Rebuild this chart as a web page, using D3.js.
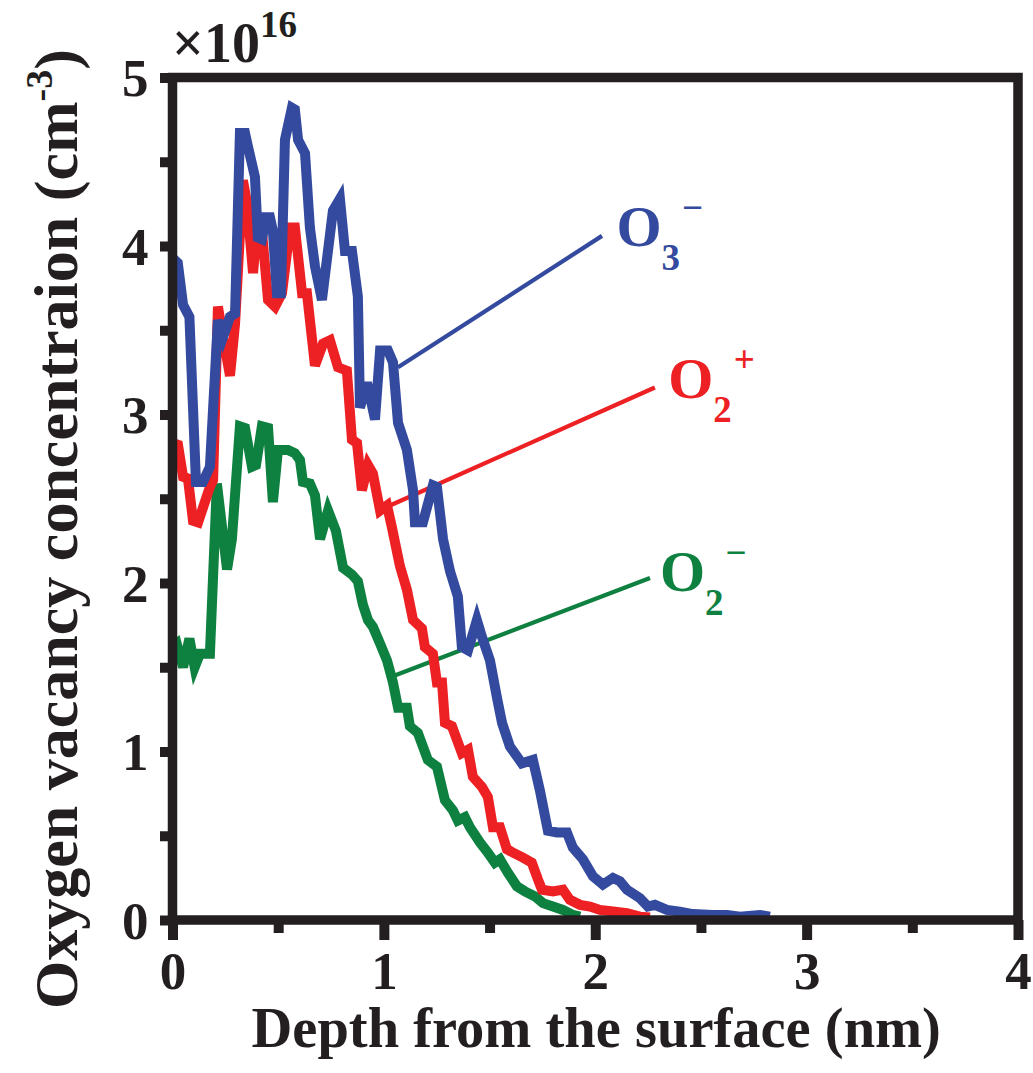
<!DOCTYPE html>
<html><head><meta charset="utf-8">
<script src="https://cdn.jsdelivr.net/npm/d3@7"></script>
<style>body{margin:0;background:#fff}svg{display:block}text{font-family:"Liberation Serif","Times New Roman",serif;font-weight:bold}</style>
</head><body>
<svg id="c" width="1033" height="1073"></svg>
<script>
// Series data: [depth (nm), concentration (x1e16 cm^-3)]
const seriesO3minus = [[0,3.93],[0.025,3.9],[0.05,3.65],[0.08,3.58],[0.111,2.6],[0.144,2.6],[0.177,2.69],[0.215,3.56],[0.239,3.46],[0.272,3.58],[0.296,3.6],[0.319,4.67],[0.343,4.67],[0.357,4.59],[0.39,4.41],[0.404,4.05],[0.423,4.04],[0.442,4.17],[0.461,4.17],[0.475,4.09],[0.494,3.72],[0.513,3.72],[0.532,4.63],[0.565,4.82],[0.579,4.81],[0.594,4.63],[0.627,4.55],[0.65,4.11],[0.674,3.88],[0.707,3.68],[0.759,4.21],[0.792,4.28],[0.816,3.97],[0.849,3.97],[0.877,3.7],[0.887,3.04],[0.92,3.19],[0.958,2.97],[0.982,3.38],[1.019,3.38],[1.043,3.31],[1.067,2.95],[1.109,2.79],[1.138,2.55],[1.147,2.36],[1.185,2.36],[1.232,2.58],[1.251,2.57],[1.28,2.26],[1.313,2.07],[1.35,1.92],[1.369,1.62],[1.398,1.6],[1.44,1.78],[1.464,1.68],[1.502,1.54],[1.535,1.32],[1.559,1.17],[1.596,1.03],[1.653,0.93],[1.705,0.95],[1.738,0.77],[1.776,0.53],[1.819,0.52],[1.866,0.52],[1.894,0.43],[1.942,0.36],[1.989,0.26],[2.036,0.21],[2.084,0.25],[2.117,0.23],[2.15,0.18],[2.211,0.13],[2.249,0.08],[2.282,0.09],[2.339,0.06],[2.4,0.05],[2.462,0.035],[2.557,0.03],[2.623,0.03],[2.685,0.02],[2.779,0.03],[2.826,0.02]];
const seriesO2plus = [[0,2.83],[0.026,2.82],[0.05,2.63],[0.073,2.62],[0.097,2.37],[0.121,2.36],[0.177,2.57],[0.192,2.61],[0.215,3.64],[0.239,3.46],[0.272,3.23],[0.296,3.54],[0.333,4.39],[0.352,4.26],[0.381,3.84],[0.404,4.17],[0.423,4.09],[0.452,3.68],[0.485,3.64],[0.518,3.72],[0.556,4.11],[0.579,4.11],[0.613,3.72],[0.636,3.72],[0.674,3.29],[0.712,3.42],[0.745,3.44],[0.783,3.28],[0.825,3.26],[0.849,2.85],[0.873,2.83],[0.896,2.55],[0.925,2.7],[0.948,2.65],[0.982,2.43],[1.015,2.46],[1.038,2.33],[1.076,2.1],[1.109,1.96],[1.138,1.78],[1.18,1.73],[1.194,1.62],[1.232,1.58],[1.251,1.41],[1.275,1.41],[1.289,1.17],[1.322,1.15],[1.369,0.99],[1.398,1.01],[1.421,0.85],[1.464,0.79],[1.492,0.73],[1.516,0.55],[1.549,0.55],[1.582,0.42],[1.611,0.4],[1.658,0.37],[1.7,0.34],[1.729,0.24],[1.748,0.18],[1.8,0.17],[1.847,0.18],[1.88,0.12],[1.928,0.09],[1.975,0.08],[2.022,0.06],[2.084,0.05],[2.15,0.04],[2.211,0.02],[2.259,0.015]];
const seriesO2minus = [[0,1.62],[0.02,1.64],[0.05,1.5],[0.08,1.67],[0.105,1.5],[0.13,1.58],[0.177,1.58],[0.21,2.59],[0.258,2.08],[0.281,2.26],[0.319,2.93],[0.343,2.92],[0.376,2.69],[0.395,2.7],[0.423,2.93],[0.452,2.92],[0.475,2.48],[0.499,2.79],[0.546,2.79],[0.579,2.77],[0.603,2.73],[0.617,2.6],[0.65,2.59],[0.674,2.52],[0.698,2.26],[0.736,2.43],[0.773,2.31],[0.807,2.09],[0.849,2.05],[0.877,2.01],[0.901,1.87],[0.925,1.78],[0.948,1.74],[0.982,1.64],[1.015,1.54],[1.043,1.41],[1.067,1.26],[1.109,1.26],[1.123,1.15],[1.161,1.11],[1.208,0.95],[1.251,0.91],[1.289,0.71],[1.327,0.65],[1.35,0.59],[1.383,0.61],[1.407,0.55],[1.455,0.46],[1.492,0.4],[1.525,0.34],[1.549,0.36],[1.587,0.28],[1.629,0.2],[1.667,0.17],[1.715,0.14],[1.753,0.1],[1.8,0.08],[1.847,0.06],[1.894,0.03],[1.928,0.02]];

const seriesNames = ["O3-","O2+","O2-"];
const labelBase = ["O","O","O"];
const labelSub = ["3","2","2"];
const labelSup = ["\u2212","+","\u2212"];
const seriesColors = ["#344a9e","#ed2024","#0e8040"];
// callout lines: [from depth, from conc, to depth, to conc]
const callouts = [[1.067,3.28,2.032,4.06],[1.029,2.46,2.282,3.16],[1.048,1.45,2.259,2.03]];
const labelPos = [[2.10,4.0],[2.345,3.10],[2.306,1.95]];

const xMajorTicks = [0,1,2,3,4];
const xMinorTicks = [0.5,1.5,2.5,3.5];
const yTicks = [0,0.5,1,1.5,2,2.5,3,3.5,4,4.5,5];
const yLabelTicks = [0,1,2,3,4,5];
const xTitle = "Depth from the surface (nm)";
const yTitle = "Oxygen vacancy concentraion (cm";
const yTitleSup = "-3";
const expBase = "\u00d710";
const expSup = "16";

const svg = d3.select("#c");
const L=172.5, R=1018, T=77.5, B=920;
const x = d3.scaleLinear().domain([0,4]).range([L,R]);
const y = d3.scaleLinear().domain([0,5]).range([B,T]);
const axisColor = "#231f20";

const line = d3.line().x(d=>x(d[0])).y(d=>y(d[1]));
const allSeries = [seriesO3minus, seriesO2plus, seriesO2minus];

// callout lines
svg.append("g").selectAll("line").data(callouts).join("line")
  .attr("x1",d=>x(d[0])).attr("y1",d=>y(d[1])).attr("x2",d=>x(d[2])).attr("y2",d=>y(d[3]))
  .attr("stroke",(d,i)=>seriesColors[i]).attr("stroke-width",4.2);

[2,1,0].forEach(i=>{
  svg.append("path").datum(allSeries[i]).attr("d",line)
    .attr("fill","none").attr("stroke",seriesColors[i]).attr("stroke-width",10)
    .attr("stroke-linejoin","miter").attr("stroke-miterlimit",4);
});

// axes ticks
const gx = svg.append("g").attr("transform",`translate(0,${B})`)
  .call(d3.axisBottom(x).tickValues(xMajorTicks).tickSize(20).tickFormat(d3.format("d")));
const gxm = svg.append("g").attr("transform",`translate(0,${B})`)
  .call(d3.axisBottom(x).tickValues(xMinorTicks).tickSize(13).tickFormat(""));
const gy = svg.append("g").attr("transform",`translate(${L},0)`)
  .call(d3.axisLeft(y).tickValues(yTicks).tickSize(12.5).tickFormat(d=> yLabelTicks.includes(d)?d3.format("d")(d):""));
[gx,gxm,gy].forEach(g=>{
  g.select(".domain").remove();
  g.selectAll(".tick line").attr("stroke",axisColor).attr("stroke-width",10);
  g.selectAll("text").attr("fill",axisColor).style("font-size","53px").style("font-family",null);
});
gx.selectAll("text").attr("y",31);
gy.selectAll("text").attr("x",-24).attr("dy","0.34em");

// frame
svg.append("rect").attr("x",L).attr("y",T).attr("width",R-L).attr("height",B-T)
  .attr("fill","none").attr("stroke",axisColor).attr("stroke-width",9.5);

// labels
labelBase.forEach((b,i)=>{
  const t = svg.append("text").attr("x",x(labelPos[i][0])).attr("y",y(labelPos[i][1]))
    .attr("fill",seriesColors[i]).style("font-size","58px");
  t.append("tspan").text(b);
  t.append("tspan").attr("dy",24).style("font-size","37px").text(labelSub[i]);
  t.append("tspan").attr("dy",-50).attr("dx",2).style("font-size","37px").text(labelSup[i]);
});

// exponent
const ex = svg.append("text").attr("x",172).attr("y",62).attr("fill",axisColor).style("font-size","56px");
ex.append("tspan").text(expBase);
ex.append("tspan").attr("dy",-25).style("font-size","37px").text(expSup);

// axis titles
svg.append("text").attr("x",(L+R)/2+1).attr("y",1047).attr("text-anchor","middle")
  .attr("fill",axisColor).style("font-size","56.5px").text(xTitle);
const yt = svg.append("text").attr("transform","translate(77,529) rotate(-90)").attr("text-anchor","middle")
  .attr("fill",axisColor).style("font-size","62px");
yt.append("tspan").text(yTitle);
yt.append("tspan").attr("dy",-25).style("font-size","38px").text(yTitleSup);
yt.append("tspan").attr("dy",25).text(")");
</script>
</body></html>
